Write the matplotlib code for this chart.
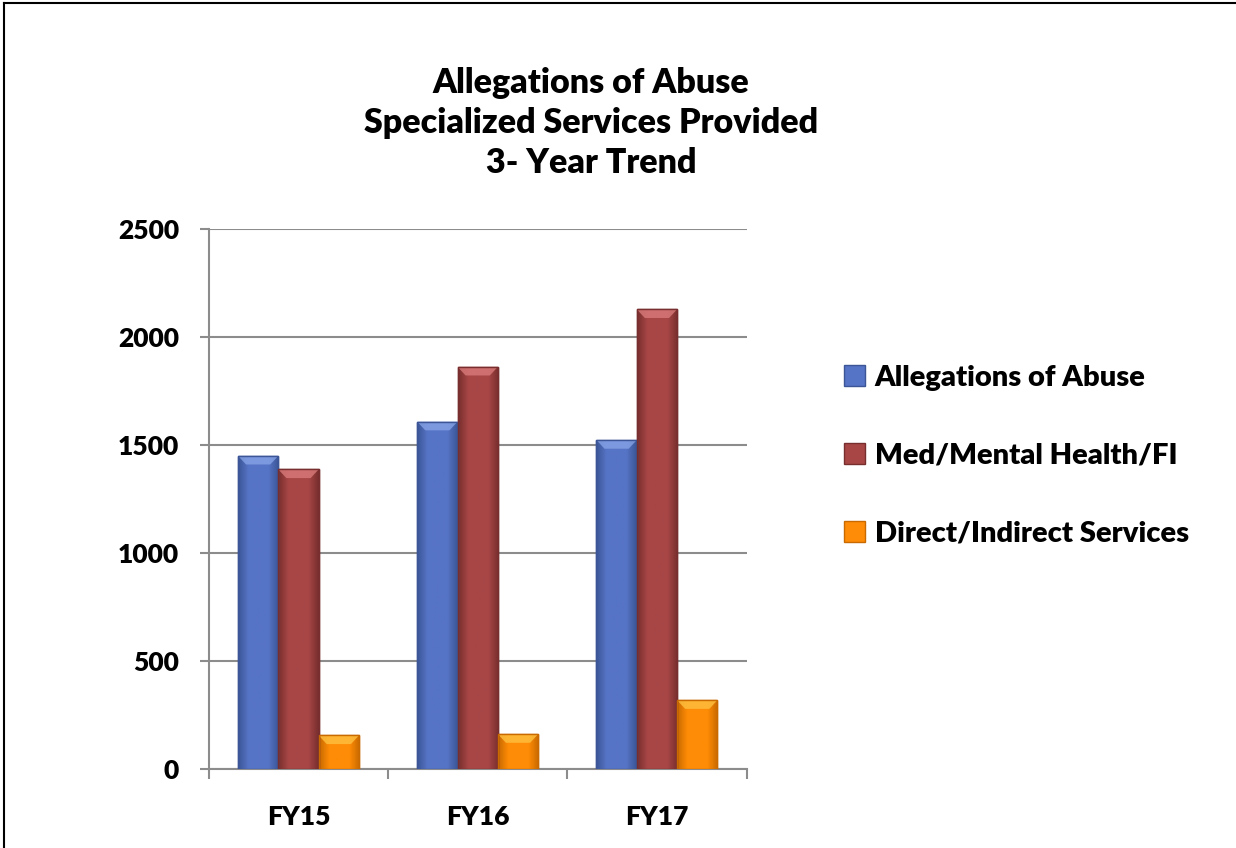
import matplotlib
matplotlib.use('Agg')
import matplotlib.pyplot as plt
from matplotlib.colors import LinearSegmentedColormap
from matplotlib.patches import Polygon
import numpy as np

# data
years = ['FY15', 'FY16', 'FY17']
allegations = [1450, 1608, 1523]
med_mental = [1387, 1862, 2128]
direct_indirect = [156, 162, 319]
series_names = ['Allegations of Abuse', 'Med/Mental Health/FI', 'Direct/Indirect Services']

# (dark edge, main, light top) for each series
shades = [('#3B5596', '#5674C6', '#86A2E6'),
          ('#782E2E', '#A84646', '#D97A7A'),
          ('#C96A00', '#FF8C06', '#FFC040')]

plt.rcParams['font.family'] = ['Lato', 'DejaVu Sans']
plt.rcParams['font.weight'] = 'heavy'

fig = plt.figure(figsize=(12.36, 8.48), dpi=100)
ax = fig.add_axes([0.169, 0.093, 0.435, 0.637])
ax.set_ylim(0, 2500)
ax.set_xlim(-0.5, 2.5)

x = np.arange(len(years))
width = 0.225
all_series = [allegations, med_mental, direct_indirect]
for i in range(3):
    dark, main, light = shades[i]
    bars = ax.bar(x + (i - 1) * width, all_series[i], width, color=main,
                  edgecolor=dark, linewidth=1.0, label=series_names[i], zorder=3)
    # little gradient across each bar and a bevel on the top
    cmap = LinearSegmentedColormap.from_list('g', [dark, main, main, main, dark])
    for b in bars:
        x0 = b.get_x()
        x1 = x0 + b.get_width()
        h = b.get_height()
        img = ax.imshow(np.linspace(0, 1, 50).reshape(1, -1), cmap=cmap, aspect='auto',
                        extent=(x0, x1, 0, h), zorder=3.5)
        img.set_clip_path(b)
        bev = min(40, h / 2)
        d = min(0.045, b.get_width() / 2)
        ax.add_patch(Polygon([(x0, h), (x1, h), (x1 - d, h - bev), (x0 + d, h - bev)],
                             closed=True, facecolor=light, edgecolor='none', alpha=0.8, zorder=3.6))
        ax.add_patch(plt.Rectangle((x0, 0), x1 - x0, h, fill=False, edgecolor=dark,
                                   linewidth=1.0, zorder=3.7))

ax.set_ylim(0, 2500)
ax.set_xlim(-0.5, 2.5)
ax.set_yticks([0, 500, 1000, 1500, 2000, 2500])
ax.yaxis.grid(True, color='#8C8C8C', linewidth=1.5, zorder=0)

# category labels centred, tick marks at the group boundaries
ax.set_xticks(x)
ax.set_xticklabels(years)
ax.set_xticks([-0.5, 0.5, 1.5, 2.5], minor=True)
ax.tick_params(axis='x', which='major', length=0, pad=26, labelsize=19)
ax.tick_params(axis='x', which='minor', length=7, width=1.5, color='#8C8C8C')
ax.tick_params(axis='y', length=6.5, width=1.5, color='#8C8C8C', labelsize=19, pad=15)

for side in ['top', 'right']:
    ax.spines[side].set_visible(False)
for side in ['left', 'bottom']:
    ax.spines[side].set_color('#8C8C8C')
    ax.spines[side].set_linewidth(1.5)

fig.text(0.478, 0.855, 'Allegations of Abuse\nSpecialized Services Provided\n3- Year Trend',
         ha='center', va='center', fontsize=24.5, fontweight='heavy', linespacing=1.3)

leg = ax.legend(loc='upper left', bbox_to_anchor=(1.16, 0.77), frameon=False,
                fontsize=21, handlelength=0.7, handleheight=0.7, handletextpad=0.35,
                labelspacing=1.78, borderaxespad=0)

# thin black frame on the top and left edge of the picture
fig.add_artist(plt.Line2D([0.003, 0.003], [0.0, 0.996], color='black', linewidth=1.5,
                          transform=fig.transFigure))
fig.add_artist(plt.Line2D([0.003, 1.0], [0.996, 0.996], color='black', linewidth=1.5,
                          transform=fig.transFigure))

plt.savefig('out.png', dpi=100)
